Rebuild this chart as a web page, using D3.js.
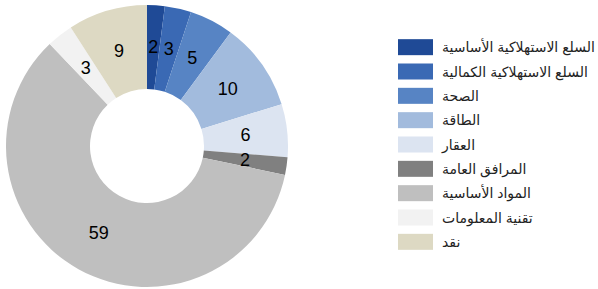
<!DOCTYPE html>
<html><head><meta charset="utf-8">
<script src="https://cdn.jsdelivr.net/npm/d3@7"></script>
<style>html,body{margin:0;padding:0;background:#fff;}</style>
</head><body>
<svg id="c" width="598" height="289"></svg>
<script>
const categories = ["السلع الاستهلاكية الأساسية","السلع الاستهلاكية الكمالية","الصحة","الطاقة","العقار","المرافق العامة","المواد الأساسية","تقنية المعلومات","نقد"];
const values = [2,3,5,10,6,2,59,3,9];
const colors = ["#1F4A96","#3A69B4","#5784C4","#A2BBDD","#DCE4F1","#808080","#BFBFBF","#F2F2F2","#DDD9C3"];

const svg = d3.select("#c");
const cx = 147, cy = 146, rOut = 141, rIn = 57;
const pie = d3.pie().sort(null).value(d => d)(values);
const arc = d3.arc().innerRadius(rIn).outerRadius(rOut);
const g = svg.append("g").attr("transform", `translate(${cx},${cy})`);
g.selectAll("path").data(pie).join("path")
  .attr("d", arc).attr("fill", (d,i) => colors[i]);
g.selectAll("text").data(pie).join("text")
  .attr("transform", d => `translate(${arc.centroid(d)})`)
  .attr("text-anchor","middle").attr("dominant-baseline","central")
  .attr("font-family","Arial, 'Liberation Sans', sans-serif").attr("font-size",18)
  .attr("fill","#000").text(d => d.data);

const y = d3.scaleBand().domain(categories).range([35, 254]);
const lg = svg.append("g");
lg.selectAll("rect").data(categories).join("rect")
  .attr("x",398).attr("width",35).attr("height",16)
  .attr("y", d => y(d) + y.bandwidth()/2 - 8)
  .attr("fill", (d,i) => colors[i]);
lg.selectAll("text").data(categories).join("text")
  .attr("x",442).attr("y", d => y(d) + y.bandwidth()/2)
  .attr("dominant-baseline","central")
  .attr("font-family","Arial, 'DejaVu Sans', sans-serif").attr("font-size",14)
  .attr("fill","#222").text(d => d);
</script>
</body></html>
